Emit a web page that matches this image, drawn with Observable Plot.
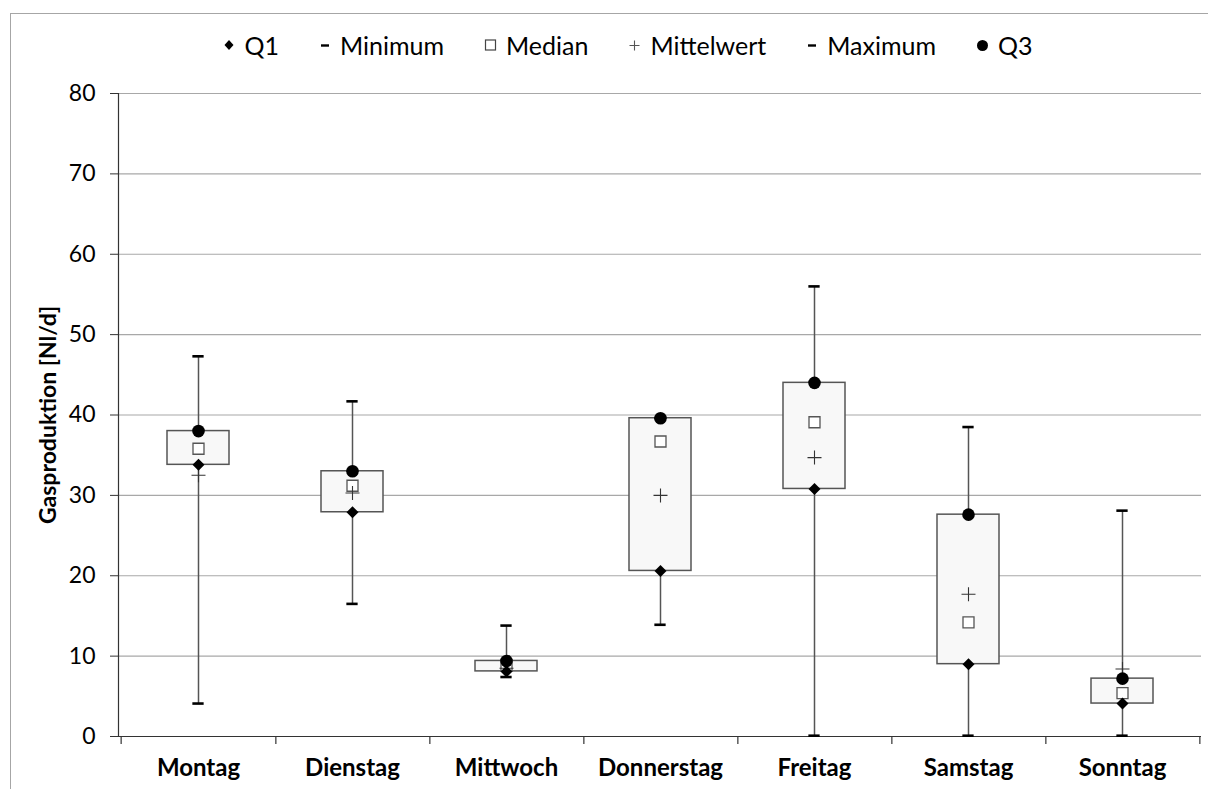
<!DOCTYPE html>
<html>
<head>
<meta charset="utf-8">
<script src="https://cdn.jsdelivr.net/npm/d3@7"></script>
<script src="https://cdn.jsdelivr.net/npm/@observablehq/plot@0.6"></script>
<style>
  html, body { margin: 0; padding: 0; background: #fff; overflow: hidden; width: 1208px; height: 789px; }
  body { position: relative; font-family: Lato, "Open Sans", sans-serif; color: #000; }
  #frame { position: absolute; left: 10px; top: 13px; width: 1300px; height: 900px; border: 1px solid #a6a6a6; box-sizing: border-box; pointer-events: none; }
  #legend { position: absolute; left: 0; top: 10px; width: 1208px; height: 70px; display: flex; align-items: center; justify-content: center; gap: 40px; font-size: 25px; padding-left: 48px; box-sizing: border-box; z-index: 2; }
  #legend .item { display: flex; align-items: center; gap: 9px; }
  #chart { position: absolute; left: 0; top: 70px; }
</style>
</head>
<body>
<div id="frame"></div>
<div id="chart"></div>
<div id="legend"></div>
<script>
const days = ["Montag", "Dienstag", "Mittwoch", "Donnerstag", "Freitag", "Samstag", "Sonntag"];
const minimum    = [4.1, 16.5, 7.4, 13.9, 0.1, 0.1, 0.1];
const q1         = [33.8, 27.9, 8.1, 20.6, 30.8, 9.0, 4.1];
const median     = [35.8, 31.2, 8.8, 36.7, 39.1, 14.2, 5.4];
const mittelwert = [32.5, 30.3, 8.5, 30.0, 34.7, 17.7, 8.4];
const q3         = [38.0, 33.0, 9.4, 39.6, 44.0, 27.6, 7.2];
const maximum    = [47.3, 41.7, 13.8, 39.6, 56.0, 38.5, 28.1];
const yTicks = [0, 10, 20, 30, 40, 50, 60, 70, 80];
const legendLabels = ["Q1", "Minimum", "Median", "Mittelwert", "Maximum", "Q3"];

const data = days.map((day, i) => ({
  day, min: minimum[i], q1: q1[i], median: median[i], mean: mittelwert[i], q3: q3[i], max: maximum[i]
}));

// custom symbols
const rad = size => Math.sqrt(size / Math.PI);
const diamondSym = { draw(ctx, size) { const r = rad(size); ctx.moveTo(0, -r); ctx.lineTo(r, 0); ctx.lineTo(0, r); ctx.lineTo(-r, 0); ctx.closePath(); } };
const squareSym = { draw(ctx, size) { const r = rad(size); ctx.rect(-r, -r, 2 * r, 2 * r); } };
const plusSym = { draw(ctx, size) { const r = rad(size); ctx.moveTo(-r, 0); ctx.lineTo(r, 0); ctx.moveTo(0, -r); ctx.lineTo(0, r); } };

const W = 1208, H = 719;
const mL = 118, mR = 7, mT = 23, mB = 53;
const bw = (W - mL - mR) / days.length;

const plot = Plot.plot({
  width: W,
  height: H,
  marginLeft: mL,
  marginRight: mR,
  marginTop: mT,
  marginBottom: mB,
  style: { fontFamily: "Lato, 'Open Sans', sans-serif", background: "transparent", color: "#000" },
  x: { domain: days, padding: 0, label: null },
  y: { domain: [0, 80], label: null },
  marks: [
    Plot.ruleY(yTicks.filter(d => d > 0), { y: d => d, stroke: "#a8a8a8", strokeWidth: 1.2 }),
    Plot.axisY({ ticks: yTicks, tickSize: 8, tickPadding: 15, fontSize: 23, stroke: "#333", label: null, tickFormat: d => String(d) }),
    Plot.text(["Gasproduktion [Nl/d]"], { frameAnchor: "left", textAnchor: "middle", dx: -70, rotate: -90, fontSize: 23, fontWeight: "bold", fill: "#000" }),
    Plot.axisX({ tickSize: 0, tickPadding: 22, fontSize: 24, fontWeight: "bold", label: null }),
    Plot.frame({ anchor: "left", stroke: "#333", strokeWidth: 1.2 }),
    Plot.ruleY([0], { stroke: "#333", strokeWidth: 1.2 }),
    // category boundary ticks on the x axis
    Plot.ruleX(days, { x: d => d, y1: 0, y2: 0, insetBottom: -8, dx: bw / 2, stroke: "#333", strokeWidth: 1.2 }),
    Plot.ruleX(days.slice(0, 1), { x: d => d, y1: 0, y2: 0, insetBottom: -8, dx: -bw / 2, stroke: "#333", strokeWidth: 1.2 }),
    // whiskers
    Plot.ruleX(data, { x: "day", y1: "min", y2: "max", stroke: "#555", strokeWidth: 1.5 }),
    // boxes
    Plot.barY(data, { x: "day", y1: "q1", y2: "q3", fill: "#f8f8f8", stroke: "#555", strokeWidth: 1.5, insetLeft: 46, insetRight: 46 }),
    // min / max caps
    Plot.tickY(data, { x: "day", y: "min", stroke: "#000", strokeWidth: 2.6, insetLeft: bw / 2 - 6, insetRight: bw / 2 - 6 }),
    Plot.tickY(data, { x: "day", y: "max", stroke: "#000", strokeWidth: 2.6, insetLeft: bw / 2 - 6, insetRight: bw / 2 - 6 }),
    // markers
    Plot.dot(data, { x: "day", y: "median", symbol: squareSym, r: 5.5, fill: "white", stroke: "#555", strokeWidth: 1.3 }),
    Plot.dot(data, { x: "day", y: "mean", symbol: plusSym, r: 7, fill: "none", stroke: "#333", strokeWidth: 1.1 }),
    Plot.dot(data, { x: "day", y: "q1", symbol: diamondSym, r: 6, fill: "#000", stroke: "none" }),
    Plot.dot(data, { x: "day", y: "q3", symbol: "circle", r: 6.3, fill: "#000", stroke: "none" })
  ]
});
document.getElementById("chart").appendChild(plot);

// legend
const legendSymbols = [
  '<svg width="12" height="14"><path d="M6,2 L10.5,7 L6,12 L1.5,7 Z" fill="#000"/></svg>',
  '<svg width="12" height="14"><line x1="2" x2="10" y1="7.5" y2="7.5" stroke="#000" stroke-width="2.4"/></svg>',
  '<svg width="13" height="14"><rect x="1.5" y="2" width="10" height="10" fill="white" stroke="#444" stroke-width="1.2"/></svg>',
  '<svg width="13" height="14"><path d="M1.5,7.5 H11.5 M6.5,2.5 V12.5" stroke="#555" stroke-width="1.1"/></svg>',
  '<svg width="12" height="14"><line x1="2" x2="10" y1="7.5" y2="7.5" stroke="#000" stroke-width="2.4"/></svg>',
  '<svg width="13" height="14"><circle cx="6.5" cy="7.5" r="5.5" fill="#000"/></svg>'
];
const leg = d3.select("#legend");
legendLabels.forEach((lab, i) => {
  const it = leg.append("div").attr("class", "item");
  it.append("span").style("display", "flex").html(legendSymbols[i]);
  it.append("span").text(lab);
});
</script>
</body>
</html>
